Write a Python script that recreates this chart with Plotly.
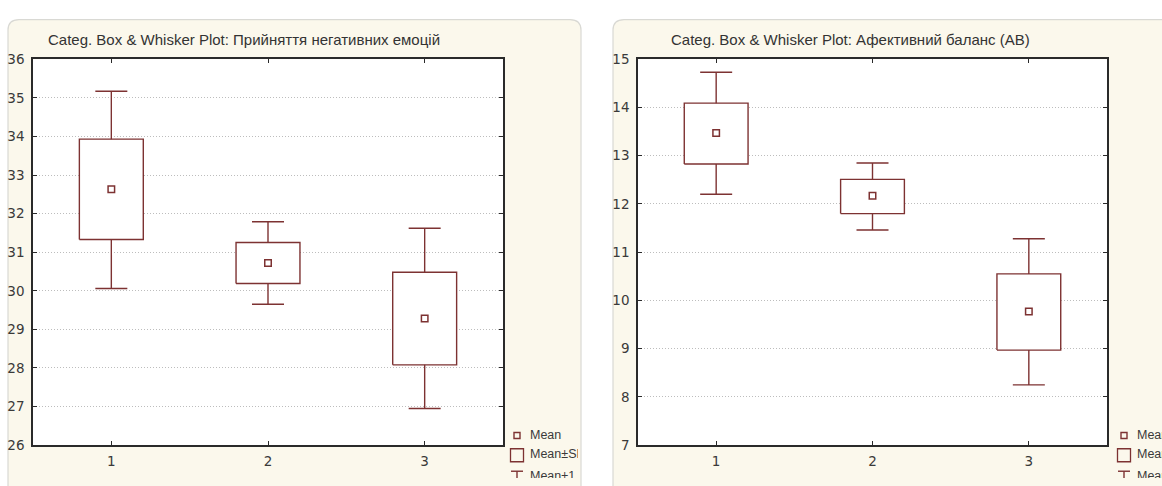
import plotly.graph_objects as go

# ---- data -------------------------------------------------------------
groups = [1, 2, 3]
group_labels = ["1", "2", "3"]

# Прийняття негативних емоцій
neg_mean = [32.63, 30.72, 29.28]
neg_se_low = [31.33, 30.19, 28.08]
neg_se_high = [33.93, 31.25, 30.48]
neg_ci_low = [30.06, 29.65, 26.95]
neg_ci_high = [35.17, 31.79, 31.62]
neg_ticks = list(range(26, 37))

# Афективний баланс (АВ)
ab_mean = [13.47, 12.17, 9.77]
ab_se_low = [12.83, 11.80, 8.97]
ab_se_high = [14.09, 12.51, 10.55]
ab_ci_low = [12.20, 11.46, 8.25]
ab_ci_high = [14.73, 12.85, 11.28]
ab_ticks = list(range(7, 16))

legend_labels = ["Mean", "Mean±SE", "Mean±1.96*SE"]
titles = [
    "Categ. Box & Whisker Plot: Прийняття негативних емоцій",
    "Categ. Box & Whisker Plot: Афективний баланс (АВ)",
]

# ---- page geometry (pixels) -------------------------------------------
W, H = 1162, 486
DARK = "#7d3232"
CARD = "#fbf8ec"
CARD_EDGE = "#d9d9d4"
FONT = "Liberation Sans, Arial, sans-serif"
TICK_FONT = "DejaVu Sans, Verdana, sans-serif"
BOX_HALF = 0.204          # half box width, in category units
CAP_PX = 16               # half width of whisker caps, px


def fx(px):
    return px / W


def fy(py):
    return 1 - py / H


panels = [
    dict(x0=33, x1=503, card=(8, 12, 581, 520), leg_x=(504, 578), title_x=46,
         mean=neg_mean, lo=neg_se_low, hi=neg_se_high, wlo=neg_ci_low,
         whi=neg_ci_high, ticks=neg_ticks, rng=[26, 36]),
    dict(x0=638, x1=1107, card=(613, 12, 1200, 520), leg_x=(1108, 1162), title_x=669,
         mean=ab_mean, lo=ab_se_low, hi=ab_se_high, wlo=ab_ci_low,
         whi=ab_ci_high, ticks=ab_ticks, rng=[7, 15]),
]
PLOT_TOP, PLOT_BOTTOM = 53, 452
LEG_ROWS = [442, 462.5, 485]

fig = go.Figure()
shapes = []
annotations = []
layout_axes = {}


def rounded_card(x0, y0, x1, y1, r):
    pts = (
        f"M {fx(x0 + r)},{fy(y0)} L {fx(x1 - r)},{fy(y0)} "
        f"Q {fx(x1)},{fy(y0)} {fx(x1)},{fy(y0 + r)} "
        f"L {fx(x1)},{fy(y1)} L {fx(x0)},{fy(y1)} "
        f"L {fx(x0)},{fy(y0 + r)} Q {fx(x0)},{fy(y0)} {fx(x0 + r)},{fy(y0)} Z"
    )
    return dict(type="path", xref="paper", yref="paper", path=pts,
                fillcolor=CARD, line=dict(color=CARD_EDGE, width=1.2), layer="below")


for i, p in enumerate(panels):
    ax = "" if i == 0 else str(i + 1)
    xa, ya = f"x{ax}", f"y{ax}"

    # whiskers: Mean±1.96*SE
    fig.add_trace(go.Scatter(
        x=groups, y=p["mean"], mode="markers", marker=dict(size=1, opacity=0),
        error_y=dict(type="data", symmetric=False,
                     array=[h - m for h, m in zip(p["whi"], p["mean"])],
                     arrayminus=[m - l for m, l in zip(p["mean"], p["wlo"])],
                     color=DARK, thickness=1.4, width=CAP_PX),
        showlegend=False, hoverinfo="skip", xaxis=xa, yaxis=ya,
    ))
    # boxes: Mean±SE, white filled so the whisker stays hidden inside
    bx, by = [], []
    for g, lo, hi in zip(groups, p["lo"], p["hi"]):
        bx += [g - BOX_HALF, g + BOX_HALF, g + BOX_HALF, g - BOX_HALF, g - BOX_HALF, None]
        by += [lo, lo, hi, hi, lo, None]
    fig.add_trace(go.Scatter(
        x=bx, y=by, mode="lines", fill="toself", fillcolor="white",
        line=dict(color=DARK, width=1.4),
        showlegend=False, hoverinfo="skip", xaxis=xa, yaxis=ya,
    ))
    # Mean marker
    fig.add_trace(go.Scatter(
        x=groups, y=p["mean"], mode="markers",
        marker=dict(symbol="square-open", size=6.5, color=DARK, line=dict(width=1.5)),
        showlegend=False, hoverinfo="skip", xaxis=xa, yaxis=ya,
    ))

    dom_x = [fx(p["x0"]), fx(p["x1"])]
    dom_y = [fy(PLOT_BOTTOM), fy(PLOT_TOP)]
    layout_axes[f"xaxis{ax}"] = dict(
        domain=dom_x, range=[0.5, 3.5], tickvals=groups, ticktext=group_labels,
        showgrid=False, zeroline=False, showline=True, linecolor="#2a2a2a",
        linewidth=1.5, mirror="ticks", ticks="inside", ticklen=4,
        tickcolor="#2a2a2a", ticklabelstandoff=3,
        tickfont=dict(family=TICK_FONT, size=13.5, color="#3a3a3a"),
        anchor=ya, fixedrange=True,
    )
    layout_axes[f"yaxis{ax}"] = dict(
        domain=dom_y, range=p["rng"], tickvals=p["ticks"],
        showgrid=True, gridcolor="#bdbdbd", griddash="1px,2px", gridwidth=1,
        zeroline=False, showline=True, linecolor="#2a2a2a", linewidth=1.5,
        mirror="ticks", ticks="inside", ticklen=4, tickcolor="#2a2a2a",
        ticklabelstandoff=4,
        tickfont=dict(family=TICK_FONT, size=13.5, color="#3a3a3a"),
        anchor=xa, fixedrange=True,
    )

    # card background and white plot area
    shapes.append(rounded_card(*p["card"], r=11))
    shapes.append(dict(type="rect", xref="paper", yref="paper",
                       x0=dom_x[0], x1=dom_x[1], y0=dom_y[0], y1=dom_y[1],
                       fillcolor="white", line=dict(width=0), layer="below"))

    annotations.append(dict(
        text=titles[i], xref="paper", yref="paper", x=fx(p["title_x"]), y=fy(33),
        xanchor="left", yanchor="middle", showarrow=False,
        font=dict(family=FONT, size=15, color="#333"),
    ))

    # legend drawn on its own clipped subplot
    lx0, lx1 = p["leg_x"]
    lxa, lya = f"x{i + 3}", f"y{i + 3}"
    layout_axes[f"xaxis{i + 3}"] = dict(domain=[fx(lx0), fx(lx1)], range=[lx0, lx1],
                                       visible=False, fixedrange=True, anchor=lya)
    layout_axes[f"yaxis{i + 3}"] = dict(domain=[0, 1], range=[H, 0],
                                       visible=False, fixedrange=True, anchor=lxa)
    gx = p["x1"] + 14 + (3 if i else 0)
    tx = gx + 13
    fig.add_trace(go.Scatter(
        x=[gx], y=[LEG_ROWS[0]], mode="markers",
        marker=dict(symbol="square-open", size=6, color=DARK, line=dict(width=1.4)),
        showlegend=False, hoverinfo="skip", cliponaxis=True, xaxis=lxa, yaxis=lya,
    ))
    fig.add_trace(go.Scatter(
        x=[gx], y=[LEG_ROWS[1]], mode="markers",
        marker=dict(symbol="square-open", size=13, color=DARK, line=dict(width=1.3)),
        showlegend=False, hoverinfo="skip", cliponaxis=True, xaxis=lxa, yaxis=lya,
    ))
    fig.add_trace(go.Scatter(
        x=[gx - 6, gx + 6, None, gx, gx], y=[LEG_ROWS[2] - 6, LEG_ROWS[2] - 6, None,
                                               LEG_ROWS[2] - 6, LEG_ROWS[2] + 6],
        mode="lines", line=dict(color=DARK, width=1.4),
        showlegend=False, hoverinfo="skip", xaxis=lxa, yaxis=lya,
    ))
    fig.add_trace(go.Scatter(
        x=[tx] * 3, y=LEG_ROWS, mode="text", text=legend_labels,
        textposition="middle right",
        textfont=dict(family=FONT, size=12.5, color="#3a3a3a"),
        showlegend=False, hoverinfo="skip", cliponaxis=True, xaxis=lxa, yaxis=lya,
    ))

fig.update_layout(
    width=W, height=H, margin=dict(l=0, r=0, t=0, b=0),
    paper_bgcolor="white", plot_bgcolor="rgba(0,0,0,0)",
    shapes=shapes, annotations=annotations, showlegend=False,
    **layout_axes,
)

fig.write_html("out.html", config={"displayModeBar": False})
